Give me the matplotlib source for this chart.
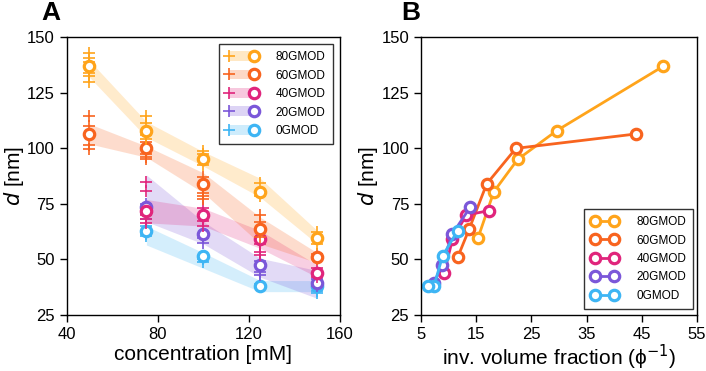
import numpy as np
import matplotlib.pyplot as plt
from matplotlib.patches import Patch, Rectangle
from matplotlib.lines import Line2D

plt.rcParams['font.family'] = ['Liberation Sans', 'DejaVu Sans']
plt.rcParams['mathtext.fontset'] = 'dejavusans'

labels = ["80GMOD", "60GMOD", "40GMOD", "20GMOD", "0GMOD"]
colors = ["#FFA41B", "#F8641F", "#E0257C", "#7B57D9", "#3EB5F4"]

# concentration [mM] for each series
conc = {
    "80GMOD": [50, 75, 100, 125, 150],
    "60GMOD": [50, 75, 100, 125, 150],
    "40GMOD": [75, 100, 125, 150],
    "20GMOD": [75, 100, 125, 150],
    "0GMOD": [75, 100, 125, 150],
}
# mean size d [nm]
mean_d = {
    "80GMOD": [137, 108, 95, 80.5, 59.5],
    "60GMOD": [106.5, 100, 84, 63.5, 51],
    "40GMOD": [72, 70, 59, 44],
    "20GMOD": [73.5, 61.5, 47.5, 39.5],
    "0GMOD": [63, 51.5, 38, 38],
}
# shaded band edges
band_lo = {
    "80GMOD": [132, 105, 92, 78, 57],
    "60GMOD": [102, 96, 80, 57, 48.5],
    "40GMOD": [66.5, 65, 55, 42],
    "20GMOD": [67, 57, 42, 32.5],
    "0GMOD": [56.5, 46, 35.5, 35.5],
}
band_hi = {
    "80GMOD": [139.5, 112, 98.5, 86.5, 63],
    "60GMOD": [111, 101, 89, 69, 53],
    "40GMOD": [77, 73, 63, 47.5],
    "20GMOD": [88, 67, 50.5, 45],
    "0GMOD": [65, 53, 40.5, 40.5],
}
# individual measurements
singles = {
    "80GMOD": [[143, 140.5, 139, 134, 132.5, 130], [114.5, 111.5, 106, 104],
               [99, 97.5, 92.5], [84.5, 78.5], [62.5, 57]],
    "60GMOD": [[114.5, 110, 101.5, 99.5], [103, 97.5, 96, 95],
               [87, 80, 78.5, 77], [70, 67, 60], [50, 52.5]],
    "40GMOD": [[85, 81, 70, 68, 66.5], [73, 67.5, 65], [57, 53.5, 52], [46, 42]],
    "20GMOD": [[75, 70.5, 68], [59.5, 57.5], [49.5, 44.5, 43], [41, 38]],
    "0GMOD": [[60.5, 61.5, 65], [49, 50], [39, 37.5], [36, 35]],
}
# inverse volume fraction for panel B
inv_phi = {
    "80GMOD": [48.9, 29.6, 22.5, 18.2, 15.3],
    "60GMOD": [44.0, 22.2, 16.9, 13.7, 11.65],
    "40GMOD": [17.4, 13.2, 10.7, 9.2],
    "20GMOD": [13.9, 10.7, 8.75, 7.4],
    "0GMOD": [11.65, 8.9, 7.35, 6.2],
}


class BandHandler:
    def legend_artist(self, legend, orig_handle, fontsize, handlebox):
        x0, y0 = handlebox.xdescent, handlebox.ydescent
        w, h = handlebox.width, handlebox.height
        c = orig_handle.get_facecolor()
        tr = handlebox.get_transform()
        band = Rectangle((x0 + 2, y0 - 0.1 * h), w - 4, 1.2 * h,
                         facecolor=c, alpha=0.25, edgecolor='none',
                         transform=tr)
        plus = Line2D([x0 + 2], [y0 + h / 2], marker='+', ms=8.5, mew=1.2,
                      color=c, ls='none', transform=tr)
        circ = Line2D([x0 + w - 2], [y0 + h / 2], marker='o', ms=7.5,
                      mew=2.3, mfc='white', mec=c, ls='none', transform=tr)
        for a in (band, plus, circ):
            handlebox.add_artist(a)
        return band


fig = plt.figure(figsize=(7.06, 3.71), dpi=100)
axA = fig.add_axes([0.0945, 0.151, 0.387, 0.7485])
axB = fig.add_axes([0.5963, 0.151, 0.391, 0.7485])

# Panel A
for lab, c in reversed(list(zip(labels, colors))):
    x = conc[lab]
    axA.fill_between(x, band_lo[lab], band_hi[lab], color=c, alpha=0.22,
                     lw=0)
    for xi, vals in zip(x, singles[lab]):
        axA.plot([xi] * len(vals), vals, ls='none', marker='+', ms=8.5,
                 mew=1.2, color=c)
    axA.plot(x, mean_d[lab], ls='none', marker='o', ms=7.5, mew=2.3,
             mfc='white', mec=c)

handles = [Patch(facecolor=c) for c in colors]
legA = axA.legend(handles, labels, handler_map={Patch: BandHandler()},
                  loc='upper right', fancybox=False, edgecolor='black',
                  fontsize=8.5, handlelength=2.6, handletextpad=1.6,
                  borderpad=0.6, labelspacing=0.55,
                  bbox_to_anchor=(0.995, 0.997))
legA.get_frame().set_linewidth(1.0)

axA.set_xlim(40, 160)
axA.set_xticks([40, 80, 120, 160])
axA.set_xlabel("concentration [mM]", fontsize=15, labelpad=2)

# Panel B
lines = []
for lab, c in zip(labels, colors):
    ln, = axB.plot(inv_phi[lab], mean_d[lab], '-o', color=c, lw=2, ms=7.5,
                   mew=2.3, mfc='white', mec=c)
    lines.append(ln)
legB = axB.legend(lines, labels, loc='lower right', fancybox=False,
                  edgecolor='black', fontsize=8.5, numpoints=2,
                  handlelength=2.2, handletextpad=1.6, borderpad=0.6,
                  labelspacing=0.55, bbox_to_anchor=(1.008, 0.0))
legB.get_frame().set_linewidth(1.0)

axB.set_xlim(5, 55)
axB.set_xticks([5, 15, 25, 35, 45, 55])
axB.set_xlabel("inv. volume fraction (ϕ$^{-1}$)", fontsize=15, labelpad=1)

for ax in (axA, axB):
    ax.set_ylim(25, 150)
    ax.set_yticks([25, 50, 75, 100, 125, 150])
    ax.set_ylabel("$\\it{d}$ [nm]", fontsize=15, labelpad=1)
    ax.tick_params(labelsize=12, direction='out', length=5, width=1)
    for s in ax.spines.values():
        s.set_linewidth(1.0)

fig.text(0.058, 0.947, "A", fontsize=19, fontweight='bold')
fig.text(0.568, 0.947, "B", fontsize=19, fontweight='bold')

fig.savefig("out.png", dpi=100)
